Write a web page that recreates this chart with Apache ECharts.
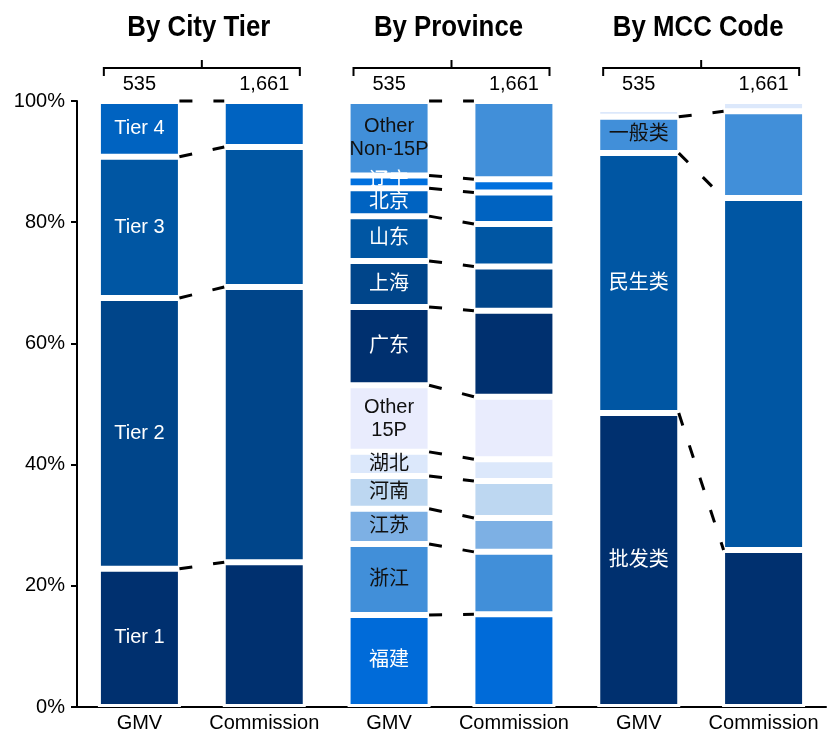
<!DOCTYPE html>
<html>
<head>
<meta charset="utf-8">
<script src="https://cdn.jsdelivr.net/npm/echarts@6/dist/echarts.min.js"></script>
<style>
  html, body { margin: 0; padding: 0; background: #fff; }
  #chart { width: 827px; height: 731px; }
</style>
</head>
<body>
<div id="chart"></div>
<script>
// Bar slots along the x axis and the text under each
const barKeys = ['cityGMV', 'cityComm', 'provGMV', 'provComm', 'mccGMV', 'mccComm'];
const barLabels = ['GMV', 'Commission', 'GMV', 'Commission', 'GMV', 'Commission'];
const yTicks = [0, 20, 40, 60, 80, 100];

// Group headers and the counts above each pair of bars
const groupTitles = ['By City Tier', 'By Province', 'By MCC Code'];
const groupTotals = ['535', '1,661'];

// City tier split (% of total)
const citySegments = ['Tier 1', 'Tier 2', 'Tier 3', 'Tier 4'];
const cityGMV = [22.8, 44.7, 23.3, 9.2];
const cityCommission = [23.9, 45.4, 23.1, 7.6];

// Province split (% of total)
const provinceSegments = ['福建', '浙江', '江苏', '河南', '湖北', 'Other\n15P', '广东', '上海', '山东', '北京', '辽宁', 'Other\nNon-15P'];
const provinceGMV = [15.2, 11.7, 5.8, 5.4, 4.0, 11.0, 12.9, 7.6, 7.4, 4.6, 2.1, 12.3];
const provinceCommission = [15.3, 10.3, 5.6, 6.1, 3.6, 10.3, 14.2, 7.3, 7.0, 5.2, 2.2, 12.9];

// MCC code split (% of total); the last three are small unlabelled categories
const mccSegments = ['批发类', '民生类', '一般类', '', '', ''];
const mccGMV = [48.5, 42.9, 6.0, 1.3, 0.6, 0.7];
const mccCommission = [25.9, 58.1, 14.3, 1.7, 0, 0];

// Styling
const NAVY = '#00306f', DEEP = '#00458a', MID = '#0056a3', ROYAL = '#0063c1', BRIGHT = '#006bd9', LINKB = '#0070de';
const SKY = '#418fd9', SOFT = '#7db0e4', PALE = '#bdd7f1', MIST = '#dce8fb', ICE = '#e9ecfd';
const groups = [
  { names: citySegments, gmv: cityGMV, comm: cityCommission,
    colors: [NAVY, DEEP, MID, ROYAL],
    text: ['#fff', '#fff', '#fff', '#fff'], links: 4 },
  { names: provinceSegments, gmv: provinceGMV, comm: provinceCommission,
    colors: [BRIGHT, SKY, SOFT, PALE, MIST, ICE, NAVY, DEEP, MID, ROYAL, LINKB, SKY],
    text: ['#fff', '#111', '#111', '#111', '#111', '#111', '#fff', '#fff', '#fff', '#fff', '#fff', '#111'], links: 12 },
  { names: mccSegments, gmv: mccGMV, comm: mccCommission,
    colors: [NAVY, MID, SKY, MIST, '#e6eefc', '#eef3fd'],
    text: ['#fff', '#fff', '#111', '#111', '#111', '#111'], links: 3 }
];

const LATIN = '"Liberation Sans", Arial, "Noto Sans CJK SC", sans-serif';
const BAR_W = 83;       // bar slot width incl. white outline
const BAR_HALF = 40;    // visible half-width of each bar

const series = [];
const links = [];
groups.forEach((g, gi) => {
  const gIdx = gi * 2, cIdx = gi * 2 + 1;
  let cumG = 0, cumC = 0;
  g.names.forEach((name, k) => {
    const data = barKeys.map(() => '-');
    data[gIdx] = g.gmv[k] > 0 ? { value: g.gmv[k], label: { show: name !== '' } } : '-';
    data[cIdx] = g.comm[k] > 0 ? g.comm[k] : '-';
    series.push({
      type: 'bar',
      name: name || ('seg' + gi + '_' + k),
      stack: 'share',
      barWidth: BAR_W,
      data: data,
      itemStyle: { color: g.colors[k], borderColor: '#fff', borderWidth: 3 },
      label: {
        show: false, position: 'inside', formatter: name,
        color: g.text[k], fontSize: 20, lineHeight: 23, fontFamily: LATIN
      },
      emphasis: { disabled: true },
      z: 2
    });
    cumG += g.gmv[k];
    cumC += g.comm[k];
    if (k < g.links) links.push([gIdx, +cumG.toFixed(2), cIdx, +cumC.toFixed(2)]);
  });
});

// Dashed connectors between matching segment boundaries of each pair
series.push({
  type: 'custom',
  clip: false,
  silent: true,
  data: links,
  encode: { x: [0, 2], y: [1, 3] },
  renderItem: function (params, api) {
    const p0 = api.coord([api.value(0), api.value(1)]);
    const p1 = api.coord([api.value(2), api.value(3)]);
    return {
      type: 'line',
      shape: { x1: p0[0] + BAR_HALF, y1: p0[1], x2: p1[0] - BAR_HALF, y2: p1[1] },
      style: { stroke: '#000', lineWidth: 3, lineDash: [13, 21], lineCap: 'butt' }
    };
  },
  z: 3
});

// Group headers: title, bracket and counts
series.push({
  type: 'custom',
  clip: false,
  silent: true,
  data: groupTitles.map((t, i) => [i * 2, 100]),
  renderItem: function (params, api) {
    const a = api.coord([api.value(0), api.value(1)]);
    const b = api.coord([api.value(0) + 1, api.value(1)]);
    const band = api.size([1, 0])[0];
    const cx = (a[0] + b[0]) / 2;
    const top = a[1];
    const ly = top - 33;
    const half = band * 0.785;
    return {
      type: 'group',
      children: [
        { type: 'text', x: cx - 3, y: top - 73, scaleX: 0.89,
          style: { text: groupTitles[params.dataIndex], x: 0, y: 0, align: 'center', verticalAlign: 'middle',
            fontSize: 29, fontWeight: 'bold', fontFamily: '"Liberation Sans", Arial, sans-serif', fill: '#000' } },
        { type: 'polyline', shape: { points: [[cx - half, ly + 8], [cx - half, ly], [cx + half, ly], [cx + half, ly + 8]] },
          style: { stroke: '#000', lineWidth: 2, fill: null } },
        { type: 'line', shape: { x1: cx, y1: ly, x2: cx, y2: ly - 8 }, style: { stroke: '#000', lineWidth: 2 } },
        { type: 'text', style: { text: groupTotals[0], x: a[0], y: top - 17, align: 'center', verticalAlign: 'middle', fontSize: 20, fontFamily: LATIN, fill: '#000' } },
        { type: 'text', style: { text: groupTotals[1], x: b[0], y: top - 17, align: 'center', verticalAlign: 'middle', fontSize: 20, fontFamily: LATIN, fill: '#000' } }
      ]
    };
  },
  z: 3
});

const chart = echarts.init(document.getElementById('chart'), null, { renderer: 'canvas' });
chart.setOption({
  animation: false,
  backgroundColor: '#fff',
  grid: { left: 77, right: 1, top: 101, bottom: 24, containLabel: false, outerBoundsMode: 'none' },
  xAxis: {
    type: 'category',
    data: barKeys,
    axisLine: { lineStyle: { color: '#000', width: 2 } },
    axisTick: { show: false },
    axisLabel: { interval: 0, margin: 6, fontSize: 20, color: '#000', fontFamily: LATIN,
      formatter: (v, i) => barLabels[i] }
  },
  yAxis: {
    type: 'value',
    min: yTicks[0], max: yTicks[yTicks.length - 1], interval: yTicks[1] - yTicks[0],
    axisLine: { show: true, lineStyle: { color: '#000', width: 2 } },
    axisTick: { show: true, length: 6, lineStyle: { color: '#000', width: 2 } },
    axisLabel: { margin: 12, fontSize: 20, color: '#000', fontFamily: LATIN, formatter: '{value}%' },
    splitLine: { show: false }
  },
  series: series
});
</script>
</body>
</html>
